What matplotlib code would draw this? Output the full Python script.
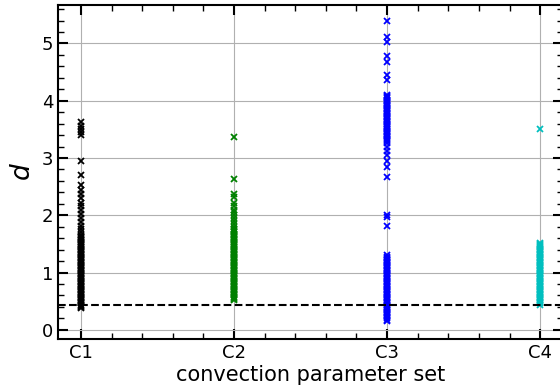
#scatter of d for each convection parameter set
import numpy as np
import matplotlib.pyplot as plt
from matplotlib.ticker import MultipleLocator

labels = ['C1', 'C2', 'C3', 'C4']
colors = ['k', 'g', 'b', 'c']

d_C1 = [0.38, 0.40, 0.42, 0.44, 0.46, 0.48, 0.50, 0.52, 0.54, 0.56, 0.58,
        0.60, 0.62, 0.64, 0.66, 0.68, 0.70, 0.72, 0.74, 0.76, 0.78, 0.80,
        0.82, 0.84, 0.86, 0.88, 0.90, 0.92, 0.94, 0.96, 0.98, 1.00, 1.02,
        1.04, 1.06, 1.08, 1.10, 1.12, 1.14, 1.16, 1.18, 1.20, 1.22, 1.24,
        1.26, 1.28, 1.30, 1.32, 1.34, 1.36, 1.38, 1.40, 1.42, 1.44, 1.46,
        1.48, 1.50, 1.52, 1.54, 1.56, 1.58, 1.60, 1.62, 1.64, 1.66,
        1.70, 1.76, 1.82, 1.88, 1.95, 2.02, 2.10, 2.16, 2.22, 2.30, 2.38,
        2.45, 2.52, 2.70, 2.95, 3.40, 3.45, 3.50, 3.56, 3.62]
d_C2 = [0.52, 0.54, 0.56, 0.58, 0.60, 0.62, 0.64, 0.66, 0.68, 0.70, 0.72,
        0.74, 0.76, 0.78, 0.80, 0.82, 0.84, 0.86, 0.88, 0.90, 0.92, 0.94,
        0.96, 0.98, 1.00, 1.02, 1.04, 1.06, 1.08, 1.10, 1.12, 1.14, 1.16,
        1.18, 1.20, 1.22, 1.24, 1.26, 1.28, 1.30, 1.32, 1.34, 1.36, 1.38,
        1.40, 1.42, 1.44, 1.46, 1.48, 1.50, 1.52, 1.54, 1.56, 1.58, 1.60,
        1.62, 1.64, 1.66, 1.68, 1.70, 1.72, 1.74, 1.76,
        1.80, 1.85, 1.90, 1.95, 2.00, 2.05, 2.10, 2.16, 2.22, 2.32, 2.38,
        2.63, 3.37]
d_C3 = [0.16, 0.18, 0.20, 0.22, 0.24, 0.26, 0.28, 0.30, 0.32, 0.34, 0.36,
        0.38, 0.40, 0.42, 0.44, 0.46, 0.48, 0.50, 0.52, 0.54, 0.56, 0.58,
        0.60, 0.62, 0.64, 0.66, 0.68, 0.70, 0.72, 0.74, 0.76, 0.78, 0.80,
        0.82, 0.84, 0.86, 0.88, 0.90, 0.92, 0.94, 0.96, 0.98, 1.00, 1.02,
        1.04, 1.06, 1.08, 1.10, 1.12, 1.14, 1.16, 1.18, 1.20, 1.22, 1.24,
        1.26, 1.28, 1.30,
        1.82, 1.97, 2.00, 2.67, 2.85, 2.95, 3.05, 3.12, 3.20, 3.26,
        3.30, 3.32, 3.34, 3.36, 3.38, 3.40, 3.42, 3.44, 3.46, 3.48, 3.50,
        3.52, 3.54, 3.56, 3.58, 3.60, 3.62, 3.64, 3.66, 3.68, 3.70, 3.72,
        3.74, 3.76, 3.78, 3.80, 3.82, 3.84, 3.86, 3.88, 3.90, 3.92, 3.94,
        3.96, 3.98, 4.00, 4.02, 4.04, 4.06, 4.08, 4.10,
        4.36, 4.45, 4.68, 4.78, 5.03, 5.11, 5.40]
d_C4 = [0.44, 0.46, 0.48, 0.50, 0.52, 0.54, 0.56, 0.58, 0.60, 0.62, 0.64,
        0.66, 0.68, 0.70, 0.72, 0.74, 0.76, 0.78, 0.80, 0.82, 0.84, 0.86,
        0.88, 0.90, 0.92, 0.94, 0.96, 0.98, 1.00, 1.02, 1.04, 1.06, 1.08,
        1.10, 1.12, 1.14, 1.16, 1.18, 1.20, 1.22, 1.24, 1.26, 1.28, 1.30,
        1.32, 1.34, 1.36, 1.38, 1.40, 1.42, 1.44, 1.46, 1.48, 1.50, 1.52,
        3.50]
d_all = [d_C1, d_C2, d_C3, d_C4]
d_min = 0.43

fig = plt.figure(figsize=(5.6, 3.91), dpi=100)
ax = fig.add_axes([0.1036, 0.133, 0.902, 0.854])

for i, d in enumerate(d_all):
    ax.plot(np.full(len(d), i), d, 'x', color=colors[i], ms=5, mew=1.3)

ax.axhline(d_min, color='k', ls='--', lw=1.5)

ax.set_xticks(range(len(labels)))
ax.set_xticklabels(labels)
ax.set_xlim(-0.15, 3.15)
ax.set_ylim(-0.16, 5.67)
ax.set_yticks([0, 1, 2, 3, 4, 5])
ax.xaxis.set_minor_locator(MultipleLocator(0.2))
ax.yaxis.set_minor_locator(MultipleLocator(0.2))
ax.tick_params(which='both', direction='in', top=True, right=True, labelsize=13)
ax.tick_params(which='major', length=7, width=1.5)
ax.tick_params(which='minor', length=4, width=1)
for s in ax.spines.values():
    s.set_linewidth(1.5)
ax.grid(color='#b0b0b0', lw=0.8)
ax.set_axisbelow(True)
ax.set_xlabel('convection parameter set', fontsize=15, labelpad=2)
ax.set_ylabel('$d$', fontsize=19)

plt.savefig('out.png', dpi=100)
